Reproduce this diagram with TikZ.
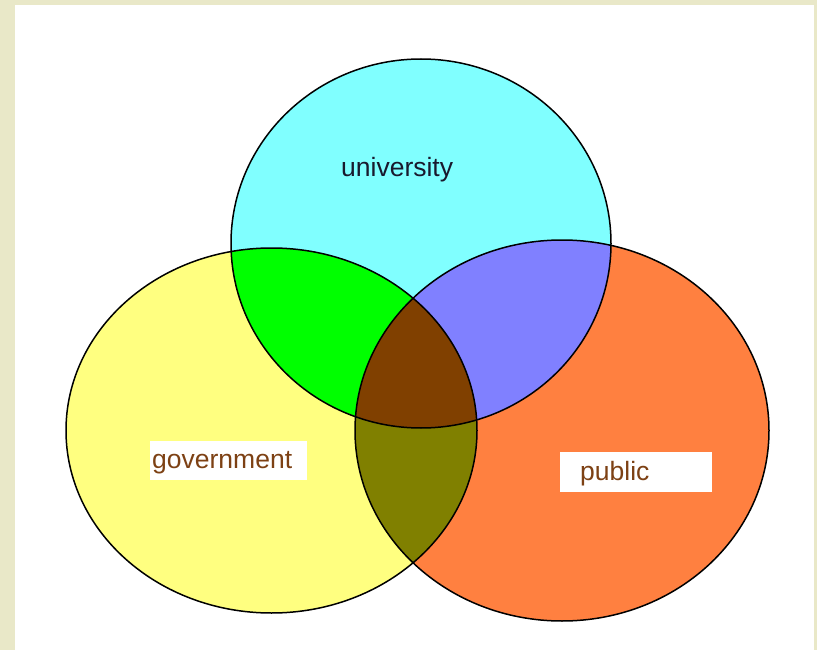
\documentclass[tikz,border=0pt]{standalone}
\usepackage{fontspec}
\setmainfont{Liberation Sans}
\definecolor{bgbeige}{RGB}{233,232,200}
\definecolor{ucyan}{RGB}{128,255,255}
\definecolor{gyellow}{RGB}{255,255,128}
\definecolor{porange}{RGB}{255,128,64}
\definecolor{ugreen}{RGB}{0,255,0}
\definecolor{uplav}{RGB}{128,128,255}
\definecolor{gpolive}{RGB}{128,128,0}
\definecolor{allbrown}{RGB}{128,64,0}
\definecolor{labbrown}{RGB}{125,65,20}
\definecolor{labdark}{RGB}{25,25,45}
\begin{document}
\begin{tikzpicture}[x=1pt,y=-1pt,
  outline/.style={draw=black,line width=1.5pt},
  lab/.style={font=\fontsize{26.5}{30}\selectfont,inner ysep=0pt},
  boxlab/.style={lab,text=labbrown,fill=white,anchor=north west,align=left,text height=20pt,text depth=3.5pt}]
\useasboundingbox (0,0) rectangle (817,650);
\fill[bgbeige] (0,0) rectangle (817,650);
\fill[white] (15,5) rectangle (814,650);
\def\univ{(421,243.5) ellipse [x radius=190pt, y radius=184.5pt]}
\def\gov{(271.5,430.5) ellipse [x radius=205.5pt, y radius=182.5pt]}
\def\pub{(562,430.5) ellipse [x radius=207pt, y radius=190.5pt]}
\fill[ucyan] \univ;
\fill[gyellow] \gov;
\fill[porange] \pub;
\begin{scope}\clip \univ; \fill[ugreen] \gov; \fill[uplav] \pub; \end{scope}
\begin{scope}\clip \gov; \fill[gpolive] \pub; \end{scope}
\begin{scope}\clip \univ; \clip \gov; \fill[allbrown] \pub; \end{scope}
\draw[outline] \univ;
\draw[outline] \gov;
\draw[outline] \pub;
\node[lab,text=labdark,anchor=base west,inner xsep=0pt] (ulab) at (341,177) {university};
\node[boxlab,inner xsep=2pt,text width=153pt,minimum height=39pt] (glab) at (150,441) {government};
\node[boxlab,inner xsep=20pt,text width=112pt,minimum height=40pt] (plab) at (560,452) {public};
\end{tikzpicture}
\end{document}
